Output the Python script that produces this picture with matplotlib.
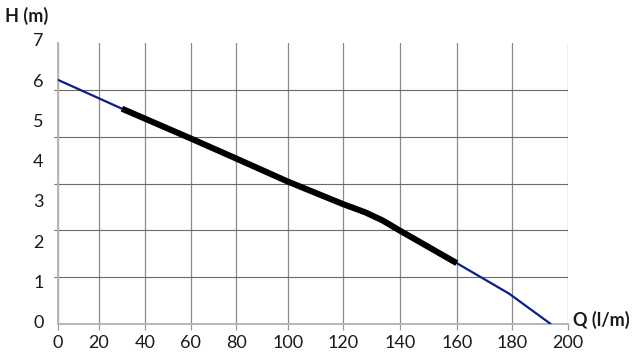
import numpy as np
import matplotlib
matplotlib.use("Agg")
import matplotlib.pyplot as plt
from matplotlib.transforms import ScaledTranslation

plt.rcParams['font.family'] = ['Lato', 'DejaVu Sans']

# Data (Q in l/min, H in m)
q_curve = [0, 30, 60, 80, 100, 120, 128, 134, 140, 160, 179, 194]
h_curve = [6.08, 5.36, 4.62, 4.12, 3.55, 2.99, 2.78, 2.58, 2.33, 1.52, 0.76, 0.0]
q_work_min, q_work_max = 30, 160
x_ticks = [0, 20, 40, 60, 80, 100, 120, 140, 160, 180, 200]
y_ticks = [0, 1, 2, 3, 4, 5, 6, 7]

# layout: pixel positions of the x grid lines in the reference (non-uniform)
xgrid_px = np.array([57.6, 98.7, 145.1, 190.7, 236.3, 287.6, 342.8, 399.8, 456.8, 512.0, 567.9])
xgrid_norm = (xgrid_px - xgrid_px[0]) / (xgrid_px[-1] - xgrid_px[0]) * 200.0

def fwd(x):
    return np.interp(x, x_ticks, xgrid_norm)

def inv(y):
    return np.interp(y, xgrid_norm, x_ticks)

W, H = 643, 358
fig = plt.figure(figsize=(W / 100, H / 100), dpi=100)
ax = fig.add_axes([57.6 / W, (H - 324.3) / H, (567.9 - 57.6) / W, (324.3 - 42.7) / H])

ax.set_xscale('function', functions=(fwd, inv))
ax.set_xlim(0, 200)
ax.set_ylim(0, 7)

q = np.array(q_curve)
h = np.array(h_curve)
ax.plot(q, h, color='#0b1f8c', lw=1.6, zorder=3, solid_capstyle='butt')
m = (q >= q_work_min) & (q <= q_work_max)
ax.plot(q[m], h[m], color='black', lw=4.4, zorder=4, solid_capstyle='butt',
        solid_joinstyle='round')

ax.set_xticks(x_ticks)
ax.set_xticklabels([str(v) for v in x_ticks])
ax.set_yticks(y_ticks)
ax.set_yticklabels([str(v) for v in y_ticks])
ax.set_yticks(np.arange(7) * 7 / 6, minor=True)
ax.set_xticks([], minor=True)

ax.grid(True, axis='x', which='major', color='#8a8a8a', lw=0.9)
ax.grid(True, axis='y', which='minor', color='#6a6a6a', lw=0.8)
ax.grid(False, axis='y', which='major')

ax.tick_params(axis='x', which='major', length=4, width=0.9, color='#9a9a9a', pad=4,
               labelsize=13, labelcolor='#1a1a1a')
ax.tick_params(axis='y', which='major', length=0, pad=10, labelsize=13, labelcolor='#1a1a1a')
ax.tick_params(axis='y', which='minor', length=3, width=0.8, color='#6a6a6a')

for lab in ax.get_yticklabels():
    lab.set_transform(lab.get_transform() + ScaledTranslation(0, 2 / 72, fig.dpi_scale_trans))

for s in ['top', 'right']:
    ax.spines[s].set_visible(False)
ax.spines['left'].set_color('#b5b5b5')
ax.spines['left'].set_linewidth(1.4)
ax.spines['bottom'].set_color('#b5b5b5')
ax.spines['bottom'].set_linewidth(1.4)

fig.text(5 / W, 1 - 16 / H, 'H (m)', fontsize=13, fontweight='bold', va='center', ha='left',
         color='#1a1a1a')
fig.text(573 / W, 1 - 320 / H, 'Q (l/m)', fontsize=13, fontweight='bold', va='center', ha='left',
         color='#1a1a1a')

fig.savefig('out.png', dpi=100)
